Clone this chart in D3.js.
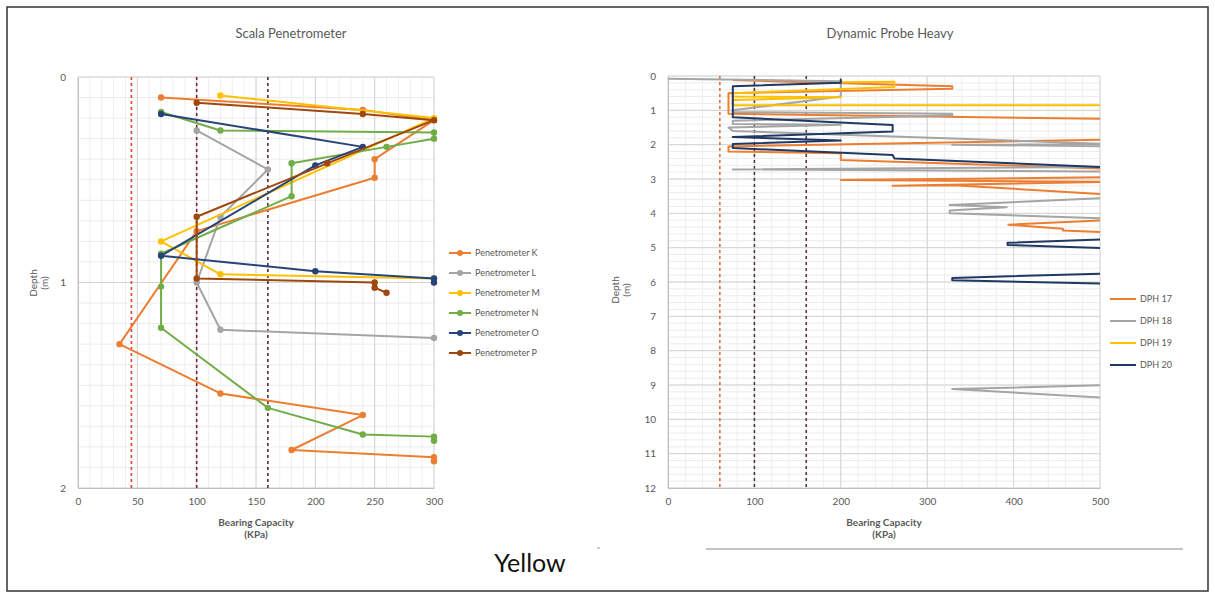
<!DOCTYPE html>
<html>
<head>
<meta charset="utf-8">
<script src="https://cdn.jsdelivr.net/npm/d3@7"></script>
<style>
  body { margin: 0; background: #fff; }
  svg { font-family: Lato, "Open Sans", sans-serif; }
</style>
</head>
<body>
<svg id="chart" width="1215" height="597"></svg>
<script>
// ---- Scala Penetrometer data: [bearing capacity kPa, depth m]
const scalaNames = ["Penetrometer K", "Penetrometer L", "Penetrometer M", "Penetrometer N", "Penetrometer O", "Penetrometer P"];
const scalaColors = ["#ED7D31", "#A5A5A5", "#FFC000", "#70AD47", "#264478", "#9E480E"];
const penK = [[70, 0.1], [240, 0.16], [300, 0.21], [250, 0.4], [250, 0.49], [100, 0.75], [35, 1.3], [120, 1.54], [240, 1.645], [180, 1.815], [300, 1.85], [300, 1.87]];
const penL = [[100, 0.26], [160, 0.45], [120, 0.68], [100, 1.0], [120, 1.23], [300, 1.27]];
const penM = [[120, 0.09], [300, 0.2], [70, 0.8], [120, 0.96], [300, 0.98]];
const penN = [[70, 0.17], [120, 0.26], [300, 0.27], [300, 0.3], [260, 0.34], [180, 0.42], [180, 0.58], [70, 0.86], [70, 1.02], [70, 1.22], [160, 1.61], [240, 1.74], [300, 1.75], [300, 1.77]];
const penO = [[70, 0.18], [240, 0.34], [200, 0.43], [70, 0.87], [200, 0.945], [300, 0.98], [300, 1.0]];
const penP = [[100, 0.125], [240, 0.18], [300, 0.21], [210, 0.42], [100, 0.68], [100, 0.98], [250, 1.0], [250, 1.025], [260, 1.05]];
const scalaSeries = [penK, penL, penM, penN, penO, penP];
const scalaRefLines = [45, 100, 160];
const scalaXTicks = [0, 50, 100, 150, 200, 250, 300];
const scalaYTicks = [0, 1, 2];

// ---- Dynamic Probe Heavy data: [bearing capacity kPa, depth m] (values past 500 run off the axis)
const dphNames = ["DPH 17", "DPH 18", "DPH 19", "DPH 20"];
const dphColors = ["#ED7D31", "#A5A5A5", "#FFC000", "#203864"];
const dph17 = [[75, 0.12], [329, 0.3], [329, 0.37], [70, 0.5], [70, 1.1], [510, 1.25], [510, 1.85], [70, 2.05], [70, 2.2], [200, 2.25], [200, 2.45], [510, 2.7], [510, 2.95], [200, 3.03], [510, 3.08], [260, 3.2], [330, 3.18], [510, 3.45], [510, 4.2], [394, 4.33], [457, 4.45], [457, 4.5], [510, 4.55]];
const dph18 = [[0, 0.08], [200, 0.15], [200, 0.6], [75, 1.0], [75, 1.05], [329, 1.1], [329, 1.15], [75, 1.3], [75, 1.4], [200, 1.42], [70, 1.5], [75, 1.6], [510, 1.98], [329, 2.0], [510, 2.05], [510, 2.65], [75, 2.72], [510, 2.78], [510, 3.55], [326, 3.76], [392, 3.82], [326, 3.92], [326, 4.0], [510, 4.15], [510, 9.0], [329, 9.12], [510, 9.38]];
const dph19 = [[200, 0.18], [262, 0.17], [262, 0.32], [75, 0.5], [75, 0.6], [200, 0.62], [75, 0.7], [75, 0.85], [520, 0.85]];
const dph20 = [[200, 0.08], [200, 0.2], [75, 0.3], [75, 1.2], [260, 1.43], [260, 1.62], [75, 1.78], [200, 1.88], [75, 1.98], [75, 2.1], [260, 2.3], [262, 2.4], [510, 2.66], [510, 4.75], [393, 4.86], [393, 4.92], [510, 5.02], [510, 5.75], [329, 5.88], [329, 5.95], [510, 6.05]];
const dphSeries = [dph17, dph18, dph19, dph20];
const dphRefLines = [60, 100, 160];
const dphXTicks = [0, 100, 200, 300, 400, 500];
const dphYTicks = d3.range(0, 13);

const svg = d3.select("#chart");
const txt = "#595959";

// outer frame
svg.append("rect").attr("x", 7).attr("y", 7).attr("width", 1201).attr("height", 584)
  .attr("fill", "none").attr("stroke", "#333").attr("stroke-width", 1.5);

function drawPanel(cfg) {
  const x = d3.scaleLinear().domain(cfg.xDomain).range([cfg.left, cfg.right]);
  const y = d3.scaleLinear().domain(cfg.yDomain).range([cfg.top, cfg.bottom]);
  const g = svg.append("g");

  // minor grid
  g.append("g").selectAll("line").data(d3.range(cfg.xDomain[0], cfg.xDomain[1] + 0.001, cfg.xMinor))
    .join("line").attr("x1", d => x(d)).attr("x2", d => x(d)).attr("y1", cfg.top).attr("y2", cfg.bottom)
    .attr("stroke", "#efefef").attr("stroke-width", 1);
  g.append("g").selectAll("line").data(d3.range(cfg.yDomain[0], cfg.yDomain[1] + 0.001, cfg.yMinor))
    .join("line").attr("y1", d => y(d)).attr("y2", d => y(d)).attr("x1", cfg.left).attr("x2", cfg.right)
    .attr("stroke", "#ececec").attr("stroke-width", 1);
  // major grid
  g.append("g").selectAll("line").data(cfg.xTicks)
    .join("line").attr("x1", d => x(d)).attr("x2", d => x(d)).attr("y1", cfg.top).attr("y2", cfg.bottom)
    .attr("stroke", "#d4d4d4").attr("stroke-width", 1);
  g.append("g").selectAll("line").data(cfg.yTicks)
    .join("line").attr("y1", d => y(d)).attr("y2", d => y(d)).attr("x1", cfg.left).attr("x2", cfg.right)
    .attr("stroke", "#d4d4d4").attr("stroke-width", 1);

  // axes (labels only, the domain lines are drawn grey)
  const xa = g.append("g").attr("transform", `translate(0,${cfg.bottom})`)
    .call(d3.axisBottom(x).tickValues(cfg.xTicks).tickFormat(d3.format("d")).tickSize(0).tickPadding(10));
  const ya = g.append("g").attr("transform", `translate(${cfg.left},0)`)
    .call(d3.axisLeft(y).tickValues(cfg.yTicks).tickFormat(d3.format("d")).tickSize(0).tickPadding(12));
  [xa, ya].forEach(a => {
    a.select(".domain").attr("stroke", "#bfbfbf");
    a.selectAll("text").attr("fill", txt).style("font-family", "Lato, 'Open Sans', sans-serif").style("font-size", "10px");
  });

  // reference lines
  g.append("g").selectAll("line").data(cfg.refLines)
    .join("line").attr("x1", d => x(d)).attr("x2", d => x(d)).attr("y1", cfg.top).attr("y2", cfg.bottom)
    .attr("stroke", (d, i) => cfg.refColors[i]).attr("stroke-width", 1.6).attr("stroke-dasharray", "3,3");

  // clip for series (values beyond the axis maximum are cut off)
  svg.append("clipPath").attr("id", cfg.id + "-clip").append("rect")
    .attr("x", cfg.left - cfg.clipPad).attr("y", cfg.top - 4)
    .attr("width", cfg.right - cfg.left + 2 * cfg.clipPad).attr("height", cfg.bottom - cfg.top + 8);

  const line = d3.line().x(d => x(d[0])).y(d => y(d[1]));
  const sg = g.append("g").attr("clip-path", `url(#${cfg.id}-clip)`);
  cfg.series.forEach((s, i) => {
    sg.append("path").datum(s).attr("d", line).attr("fill", "none")
      .attr("stroke", cfg.colors[i]).attr("stroke-width", cfg.lineWidth).attr("stroke-linejoin", "round");
    if (cfg.markers) {
      sg.append("g").selectAll("circle").data(s).join("circle")
        .attr("cx", d => x(d[0])).attr("cy", d => y(d[1])).attr("r", 3.2).attr("fill", cfg.colors[i]);
    }
  });

  // titles
  g.append("text").attr("x", cfg.titleX).attr("y", 38).attr("text-anchor", "middle")
    .attr("fill", txt).style("font-size", "13px").text(cfg.title);
  const cx = (cfg.left + cfg.right) / 2;
  g.append("text").attr("x", cx).attr("y", cfg.bottom + 38).attr("text-anchor", "middle")
    .attr("fill", txt).style("font-size", "10px").style("font-weight", "bold").text("Bearing Capacity");
  g.append("text").attr("x", cx).attr("y", cfg.bottom + 50).attr("text-anchor", "middle")
    .attr("fill", txt).style("font-size", "10px").style("font-weight", "bold").text("(KPa)");
  const yl = g.append("text").attr("transform", `translate(${cfg.yLabelX},${cfg.yLabelY}) rotate(-90)`)
    .attr("text-anchor", "middle").attr("fill", txt).style("font-size", "10px");
  yl.append("tspan").attr("x", 0).attr("dy", 0).text("Depth");
  yl.append("tspan").attr("x", 0).attr("dy", 11).text("(m)");

  // legend
  const lg = g.append("g").attr("transform", `translate(${cfg.legendX},${cfg.legendY})`);
  cfg.names.forEach((n, i) => {
    const row = lg.append("g").attr("transform", `translate(0,${i * cfg.legendStep})`);
    row.append("line").attr("x1", 0).attr("x2", cfg.legendLine).attr("stroke", cfg.colors[i]).attr("stroke-width", 2);
    if (cfg.markers) row.append("circle").attr("cx", cfg.legendLine / 2).attr("r", 3).attr("fill", cfg.colors[i]);
    row.append("text").attr("x", cfg.legendLine + 4).attr("dy", "0.35em").attr("fill", txt)
      .style("font-size", "9px").text(n);
  });
}

drawPanel({
  id: "scala", title: "Scala Penetrometer", titleX: 291,
  left: 78, right: 434, top: 77, bottom: 488,
  xDomain: [0, 300], yDomain: [0, 2], xTicks: scalaXTicks, yTicks: scalaYTicks,
  xMinor: 10, yMinor: 0.1, clipPad: 6,
  refLines: scalaRefLines, refColors: ["#e0413a", "#7b2335", "#5a2a33"],
  series: scalaSeries, colors: scalaColors, names: scalaNames, markers: true, lineWidth: 2,
  yLabelX: 37, yLabelY: 283,
  legendX: 449, legendY: 253, legendStep: 20, legendLine: 22
});

drawPanel({
  id: "dph", title: "Dynamic Probe Heavy", titleX: 890,
  left: 668, right: 1100, top: 76, bottom: 488,
  xDomain: [0, 500], yDomain: [0, 12], xTicks: dphXTicks, yTicks: dphYTicks,
  xMinor: 20, yMinor: 0.2, clipPad: 0,
  refLines: dphRefLines, refColors: ["#e0723a", "#4a3a4a", "#5a3a48"],
  series: dphSeries, colors: dphColors, names: dphNames, markers: false, lineWidth: 2,
  yLabelX: 619, yLabelY: 290,
  legendX: 1110, legendY: 299, legendStep: 22, legendLine: 26
});

// caption and stray line at the bottom
svg.append("text").attr("x", 530).attr("y", 572).attr("text-anchor", "middle")
  .attr("fill", "#111").style("font-size", "25px").style("font-family", "Lato, sans-serif").text("Yellow");
svg.append("line").attr("x1", 706).attr("x2", 1183).attr("y1", 549).attr("y2", 549)
  .attr("stroke", "#b0b0b0").attr("stroke-width", 1.5);
svg.append("line").attr("x1", 597).attr("x2", 600).attr("y1", 548).attr("y2", 548)
  .attr("stroke", "#999").attr("stroke-width", 1);
</script>
</body>
</html>
